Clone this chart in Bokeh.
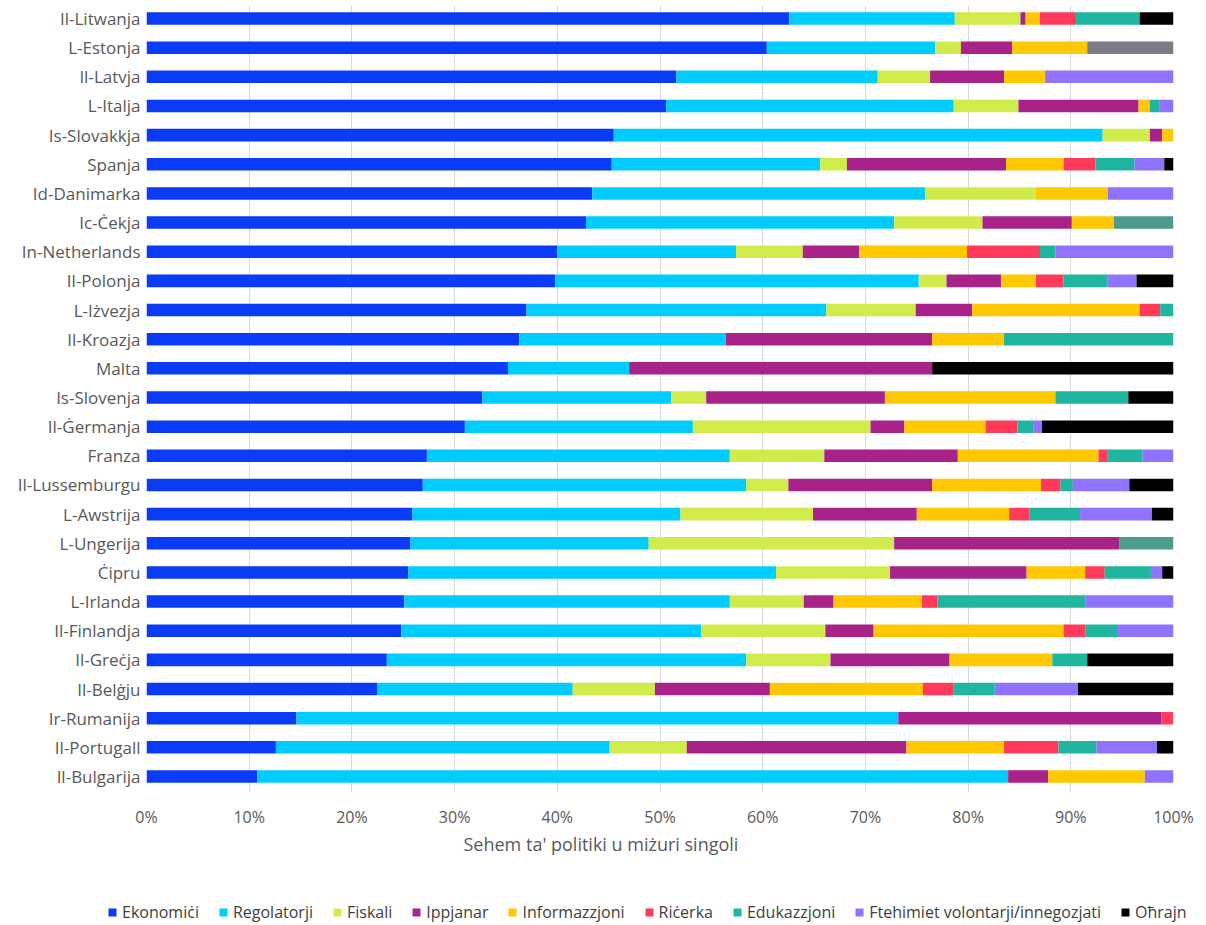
from bokeh.plotting import figure
from bokeh.layouts import column
from bokeh.models import (Range1d, FixedTicker, PrintfTickFormatter, Legend,
                          LegendItem, Title, ColumnDataSource)
from bokeh.embed import file_html
from bokeh.resources import INLINE

countries = ["Il-Litwanja", "L-Estonja", "Il-Latvja", "L-Italja", "Is-Slovakkja",
             "Spanja", "Id-Danimarka", "Ic-Ċekja", "In-Netherlands", "Il-Polonja",
             "L-Iżvezja", "Il-Kroazja", "Malta", "Is-Slovenja", "Il-Ġermanja",
             "Franza", "Il-Lussemburgu", "L-Awstrija", "L-Ungerija", "Ċipru",
             "L-Irlanda", "Il-Finlandja", "Il-Greċja", "Il-Belġju", "Ir-Rumanija",
             "Il-Portugall", "Il-Bulgarija"]

ekonomici = [62.6, 60.4, 51.6, 50.6, 45.5, 45.3, 43.4, 42.8, 40.0, 39.8, 37.0, 36.3, 35.2, 32.7,
             31.0, 27.3, 26.9, 25.9, 25.7, 25.5, 25.1, 24.8, 23.4, 22.5, 14.6, 12.6, 10.8]
regolatorji = [16.1, 16.4, 19.6, 28.0, 47.6, 20.3, 32.4, 30.0, 17.4, 35.4, 29.2, 20.1, 11.8, 18.4,
               22.2, 29.5, 31.5, 26.1, 23.2, 35.8, 31.7, 29.2, 35.0, 19.0, 58.6, 32.5, 73.1]
fiskali = [6.4, 2.5, 5.1, 6.3, 4.6, 2.6, 10.8, 8.6, 6.5, 2.7, 8.7, 0.0, 0.0, 3.4,
           17.3, 9.2, 4.1, 12.9, 23.9, 11.1, 7.2, 12.1, 8.2, 8.0, 0.0, 7.5, 0.0]
ippjanar = [0.5, 5.0, 7.2, 11.7, 1.2, 15.5, 0.0, 8.7, 5.5, 5.3, 5.5, 20.1, 29.5, 17.4,
            3.3, 13.0, 14.0, 10.1, 21.9, 13.3, 2.9, 4.7, 11.6, 11.2, 25.6, 21.4, 3.9]
informazzjoni = [1.4, 7.3, 4.0, 1.1, 1.1, 5.6, 7.0, 4.1, 10.5, 3.4, 16.3, 7.0, 0.0, 16.6,
                 7.9, 13.7, 10.6, 9.0, 0.0, 5.7, 8.6, 18.5, 10.0, 14.9, 0.0, 9.5, 9.4]
ricerka = [3.5, 0.0, 0.0, 0.0, 0.0, 3.1, 0.0, 0.0, 7.1, 2.7, 2.0, 0.0, 0.0, 0.0,
           3.1, 0.9, 1.9, 2.0, 0.0, 1.9, 1.5, 2.1, 0.0, 3.0, 1.2, 5.3, 0.0]
edukazzjoni = [6.2, 0.0, 0.0, 0.9, 0.0, 3.8, 0.0, 0.0, 1.5, 4.3, 1.3, 16.5, 0.0, 7.1,
               1.6, 3.4, 1.2, 4.9, 0.0, 4.5, 14.4, 3.1, 3.4, 4.0, 0.0, 3.7, 0.0]
mhux_klassifikati_1 = [0.0, 0.0, 0.0, 0.0, 0.0, 0.0, 0.0, 5.8, 0.0, 0.0, 0.0, 0.0, 0.0, 0.0,
                       0.0, 0.0, 0.0, 0.0, 5.3, 0.0, 0.0, 0.0, 0.0, 0.0, 0.0, 0.0, 0.0]
ftehimiet = [0.0, 0.0, 12.5, 1.4, 0.0, 2.9, 6.4, 0.0, 11.5, 2.8, 0.0, 0.0, 0.0, 0.0,
             0.8, 3.0, 5.5, 7.0, 0.0, 1.1, 8.6, 5.5, 0.0, 8.1, 0.0, 5.9, 2.8]
ohrajn = [3.3, 0.0, 0.0, 0.0, 0.0, 0.9, 0.0, 0.0, 0.0, 3.6, 0.0, 0.0, 23.5, 4.4,
          12.8, 0.0, 4.3, 2.1, 0.0, 1.1, 0.0, 0.0, 8.4, 9.3, 0.0, 1.6, 0.0]
mhux_klassifikati_2 = [0.0, 8.4, 0.0, 0.0, 0.0, 0.0, 0.0, 0.0, 0.0, 0.0, 0.0, 0.0, 0.0, 0.0,
                       0.0, 0.0, 0.0, 0.0, 0.0, 0.0, 0.0, 0.0, 0.0, 0.0, 0.0, 0.0, 0.0]

series_keys = ["ekonomici", "regolatorji", "fiskali", "ippjanar", "informazzjoni",
               "ricerka", "edukazzjoni", "mk1", "ftehimiet", "ohrajn", "mk2"]
series_labels = ["Ekonomiċi", "Regolatorji", "Fiskali", "Ippjanar", "Informazzjoni",
                 "Riċerka", "Edukazzjoni", None, "Ftehimiet volontarji/innegozjati",
                 "Oħrajn", None]
colors = ["#0A3CF5", "#00CCFF", "#D0EC4A", "#A8228A", "#FFC800",
          "#FF3A5A", "#1FB59F", "#4E9A8E", "#8F72FF", "#000000", "#7F7A8A"]
axis_title = "Sehem ta' politiki u miżuri singoli"

n = len(countries)
ypos = [n - 1 - i for i in range(n)]
src = ColumnDataSource(dict(
    y=ypos, ekonomici=ekonomici, regolatorji=regolatorji, fiskali=fiskali,
    ippjanar=ippjanar, informazzjoni=informazzjoni, ricerka=ricerka,
    edukazzjoni=edukazzjoni, mk1=mhux_klassifikati_1, ftehimiet=ftehimiet,
    ohrajn=ohrajn, mk2=mhux_klassifikati_2))

FONT = "Open Sans"
TXT = "#595959"

# ---------------- main chart ----------------
p = figure(width=1206, height=880, output_backend="svg", toolbar_location=None,
           x_range=Range1d(0, 100), y_range=Range1d(-0.549, 26.446),
           min_border_left=146, min_border_right=33, min_border_top=5,
           min_border_bottom=88)
p.frame_align = False
p.outline_line_color = None
p.background_fill_color = "white"

rs = p.hbar_stack(series_keys, y="y", height=0.43, fill_color=colors,
                  line_color=None, source=src)

p.xaxis.ticker = FixedTicker(ticks=list(range(0, 101, 10)))
p.xaxis.formatter = PrintfTickFormatter(format="%d%%")
p.xaxis.axis_line_color = None
p.xaxis.major_tick_line_color = None
p.xaxis.minor_tick_line_color = None
p.xaxis.major_tick_out = 0
p.xaxis.major_label_standoff = 13
p.xaxis.major_label_text_font = FONT
p.xaxis.major_label_text_font_size = "16px"
p.xaxis.major_label_text_color = TXT

p.yaxis.ticker = FixedTicker(ticks=ypos)
p.yaxis.major_label_overrides = {y: c for y, c in zip(ypos, countries)}
p.yaxis.axis_line_color = None
p.yaxis.major_tick_line_color = None
p.yaxis.minor_tick_line_color = None
p.yaxis.major_tick_out = 0
p.yaxis.major_label_standoff = 6
p.yaxis.major_label_text_font = FONT
p.yaxis.major_label_text_font_size = "17px"
p.yaxis.major_label_text_color = TXT

p.ygrid.grid_line_color = None
p.xgrid.grid_line_color = "#d9d9d9"
p.xgrid.grid_line_width = 1

# axis title, centred under the whole chart as in the reference
p.add_layout(Title(text=axis_title, align="left", offset=317, vertical_align="middle",
                   standoff=0, text_font=FONT, text_font_size="18px",
                   text_font_style="normal", text_color=TXT), "below")

# ---------------- legend strip ----------------
# Same stacked bars drawn again, but the strip's y range lies far away from
# them, so only the legend shows.
lg = figure(width=1206, height=45, output_backend="svg", toolbar_location=None,
            x_range=Range1d(0, 100), y_range=Range1d(1000, 1001),
            x_axis_location=None, y_axis_location=None,
            min_border_left=0, min_border_right=0, min_border_top=0, min_border_bottom=0)
lg.frame_align = False
lg.outline_line_color = None
lg.xgrid.visible = False
lg.ygrid.visible = False

lrs = lg.hbar_stack(series_keys, y="y", height=0.43, fill_color=colors,
                    line_color=None, source=src)
items = [LegendItem(label=lab, renderers=[r]) for lab, r in zip(series_labels, lrs) if lab]

legend = Legend(items=items, orientation="horizontal", location=(107, 2),
                glyph_width=10, glyph_height=10, label_standoff=5, spacing=19,
                padding=0, margin=0, label_height=16,
                label_text_font=FONT, label_text_font_size="16px",
                label_text_color="#404040", border_line_color=None,
                background_fill_alpha=0)
lg.add_layout(legend)

layout = column(p, lg, spacing=0)
open("out.html", "w").write(file_html(layout, INLINE))
